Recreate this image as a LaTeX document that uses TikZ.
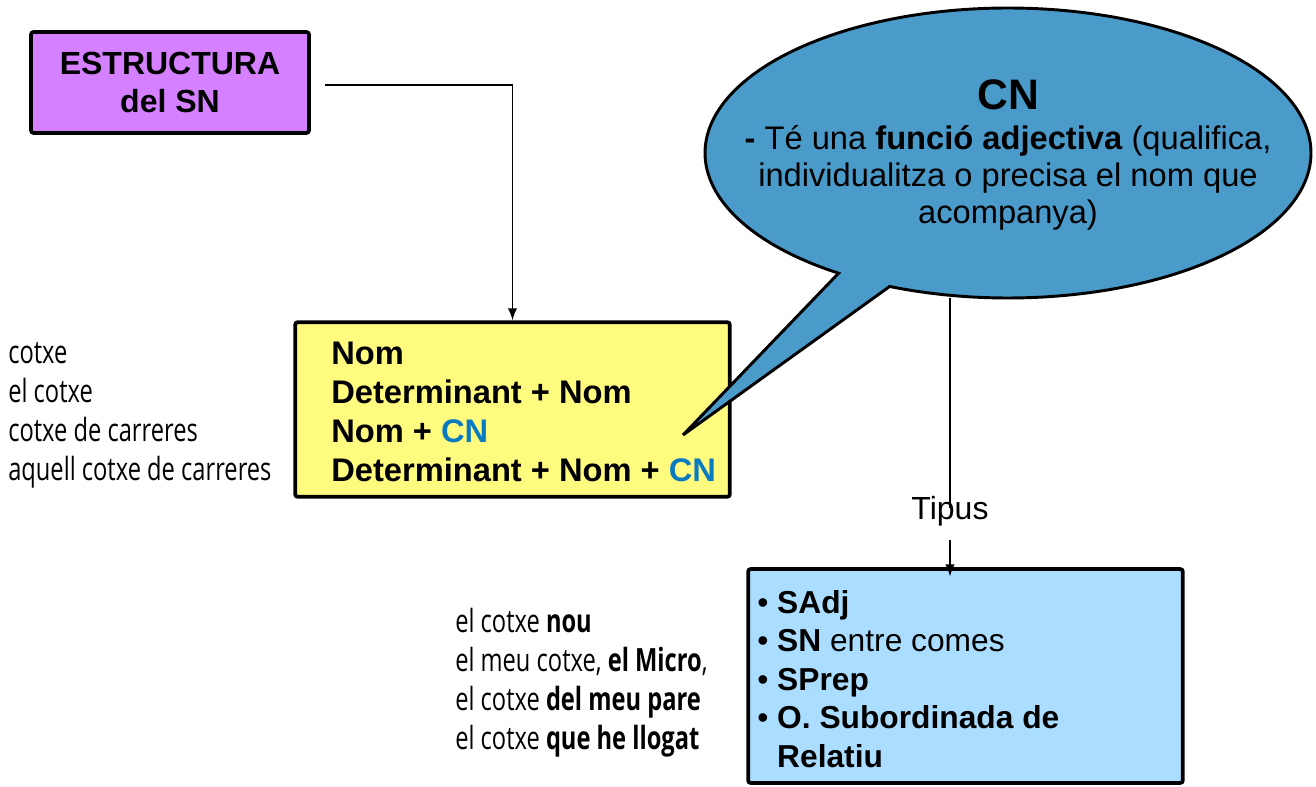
\documentclass[tikz,border=0pt]{standalone}
\usepackage{fontspec}
\setmainfont{Liberation Sans}
\newfontfamily\handfont[FakeStretch=0.74]{Open Sans}
\usetikzlibrary{arrows.meta}
\definecolor{purplebox}{RGB}{213,128,255}
\definecolor{yellowbox}{RGB}{255,251,127}
\definecolor{lightbluebox}{RGB}{170,221,255}
\definecolor{balloonblue}{RGB}{74,155,201}
\definecolor{cnblue}{RGB}{11,123,193}
\tikzset{
  sketchbox/.style={draw=black, line width=2.8pt, rounded corners=2pt, inner sep=0pt},
  conn/.style={draw=black, line width=1.1pt},
  tip/.style={-{Latex[length=9pt,width=7pt]}},
  bodytext/.style={font=\fontsize{24.5}{29.2}\selectfont, inner sep=0pt, align=left},
  handtext/.style={font=\handfont\fontsize{24}{29.3}\selectfont, inner sep=0pt, align=left, anchor=west},
}
\begin{document}
\begin{tikzpicture}[x=0.75pt,y=-0.75pt]
\useasboundingbox (0,0) rectangle (1316,787);

% boxes
\node[sketchbox, fill=purplebox, minimum width=208.5pt, minimum height=75.75pt,
  align=center, font=\bfseries\fontsize{24}{29.2}\selectfont] (pbox) at (170,82.5)
  {ESTRUCTURA\\ del SN};
\node[sketchbox, fill=yellowbox, minimum width=326pt, minimum height=131pt] (ybox) at (512.5,409.5) {};
\node[sketchbox, fill=lightbluebox, minimum width=326pt, minimum height=160.5pt] (bbox) at (965.5,676) {};

\node[bodytext, anchor=west, font=\bfseries\fontsize{24.5}{29.2}\selectfont] (ytext) at (331,412)
  {Nom\\ Determinant + Nom\\ Nom + \textcolor{cnblue}{CN}\\ Determinant + Nom + \textcolor{cnblue}{CN}};

\node[bodytext, anchor=west, font=\fontsize{23.8}{28.9}\selectfont] (btext) at (757,679)
  {• \textbf{SAdj}\\ • \textbf{SN} entre comes\\ • \textbf{SPrep}\\ • \textbf{O. Subordinada de}\\ \phantom{• }\textbf{Relatiu}};

% balloon (ellipse with tail)
\filldraw[fill=balloonblue, draw=black, line width=2.2pt, line join=miter]
  (683,435) -- plot[domain=124:473, samples=140, smooth] ({1008+303*cos(\x)},{153+145*sin(\x)}) -- cycle;
\coordinate (cnb) at (950,298);
\node[font=\bfseries\fontsize{32}{36}\selectfont, inner sep=0pt] (cntitle) at (1008,95) {CN};
\node[bodytext, align=center, font=\fontsize{24.5}{27.8}\selectfont] (cnbody) at (1008,178)
  {\textbf{-} Té una \textbf{funció adjectiva} (qualifica,\\ individualitza o precisa el nom que\\ acompanya)};

% side examples
\node[handtext] (ex1) at (8,415)
  {cotxe\\ el cotxe\\ cotxe de carreres\\ aquell cotxe de carreres};
\node[handtext] (ex2) at (455,683)
  {el cotxe \textbf{nou}\\ el meu cotxe, \textbf{el Micro},\\ el cotxe \textbf{del meu pare}\\ el cotxe \textbf{que he llogat}};

% Tipus
\node[font=\fontsize{24}{28}\selectfont, inner sep=0pt] (tipus) at (950,511) {Tipus};

% connectors
\coordinate (pout) at (325,85);
\draw[conn, tip] (pout) -| (ybox.north);
\draw[conn] (cnb) -- ([yshift=-9pt]tipus.north);
\draw[conn, tip] ([yshift=-10pt]tipus.south) -- ([yshift=-7pt]tipus.south |- bbox.north);
\end{tikzpicture}
\end{document}
